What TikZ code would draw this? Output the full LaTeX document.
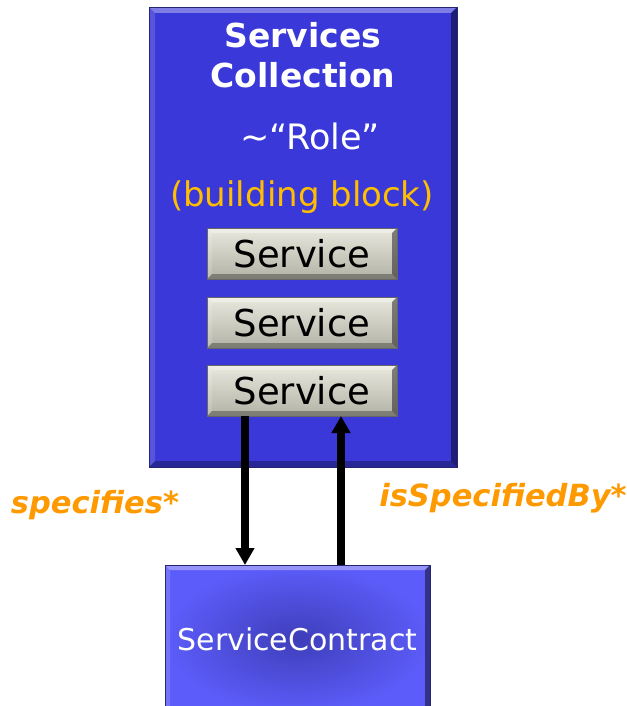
\documentclass[tikz,border=0pt]{standalone}
\usepackage{fontspec}
\setmainfont{DejaVu Sans}
\usetikzlibrary{positioning,arrows.meta}
\definecolor{azul}{RGB}{58,56,216}
\definecolor{azulclaro}{RGB}{92,92,250}
\definecolor{azulosc}{RGB}{62,62,186}
\definecolor{gris}{RGB}{232,232,222}
\definecolor{grisosc}{RGB}{178,178,166}
\definecolor{naranja}{RGB}{255,153,0}
\definecolor{ambar}{RGB}{255,190,0}
\begin{document}
\begin{tikzpicture}[x=1pt,y=-1pt,
	every node/.style={inner sep=0pt, outer sep=0pt},
	bisel/.style={path picture={
		\fill[white,opacity=.35] (path picture bounding box.north west) -- (path picture bounding box.north east)
			-- ([shift={(-#1,-#1)}]path picture bounding box.north east) -- ([shift={(#1,-#1)}]path picture bounding box.north west) -- cycle;
		\fill[white,opacity=.15] (path picture bounding box.north west) -- (path picture bounding box.south west)
			-- ([shift={(#1,#1)}]path picture bounding box.south west) -- ([shift={(#1,-#1)}]path picture bounding box.north west) -- cycle;
		\fill[black,opacity=.45] (path picture bounding box.north east) -- (path picture bounding box.south east)
			-- ([shift={(-#1,#1)}]path picture bounding box.south east) -- ([shift={(-#1,-#1)}]path picture bounding box.north east) -- cycle;
		\fill[black,opacity=.3] (path picture bounding box.south west) -- (path picture bounding box.south east)
			-- ([shift={(-#1,#1)}]path picture bounding box.south east) -- ([shift={(#1,#1)}]path picture bounding box.south west) -- cycle;
	}},
	coleccion/.style={fill=azul, draw=azulosc!60!black, line width=.6pt, bisel=6pt,
		minimum width=308pt, minimum height=460pt},
	servicio/.style={top color=gris, bottom color=grisosc, draw=black!60, line width=.4pt, bisel=5pt,
		minimum width=190pt, minimum height=51pt, text=black, font=\fontsize{37}{42}\selectfont},
	contrato/.style={inner color=azulosc, outer color=azulclaro, draw=azulosc!60!black, line width=.6pt, bisel=5pt,
		minimum width=265pt, minimum height=148pt, text=white, font=\fontsize{30}{36}\selectfont},
	etiqueta/.style={text=naranja, font=\fontsize{30.5}{36}\selectfont\bfseries\itshape},
	flecha/.style={line width=8pt, -{Triangle[length=17pt,width=18pt]}}]
	\useasboundingbox (0,0) rectangle (626,706);
	\node[coleccion] (coll) at (303,237) {};
	\node[text=white, align=center, font=\fontsize{33}{40}\selectfont\bfseries] (titulo) at (303,55) {Services\\Collection};
	\node[text=white, font=\fontsize{35}{40}\selectfont] (rol) at (310,136) {\textasciitilde“Role”};
	\node[text=ambar, font=\fontsize{34}{40}\selectfont] (bloque) at (302,197) {(building block)};
	\node[servicio] (s1) at (302,253.5) {Service};
	\node[servicio, below=18pt of s1] (s2) {Service};
	\node[servicio, below=17pt of s2] (s3) {Service};
	\node[contrato] (sc) at (297.5,639) {ServiceContract};
	\node[etiqueta] (especifica) at (95,505) {specifies*};
	\node[etiqueta] (especificado) at (503,498) {isSpecifiedBy*};
	\draw[flecha] ([xshift=-57pt]s3.south) -- ([xshift=-57pt]s3.south |- sc.north);
	\draw[flecha] ([xshift=39pt]s3.south |- sc.north) -- ([xshift=39pt]s3.south);
\end{tikzpicture}
\end{document}
